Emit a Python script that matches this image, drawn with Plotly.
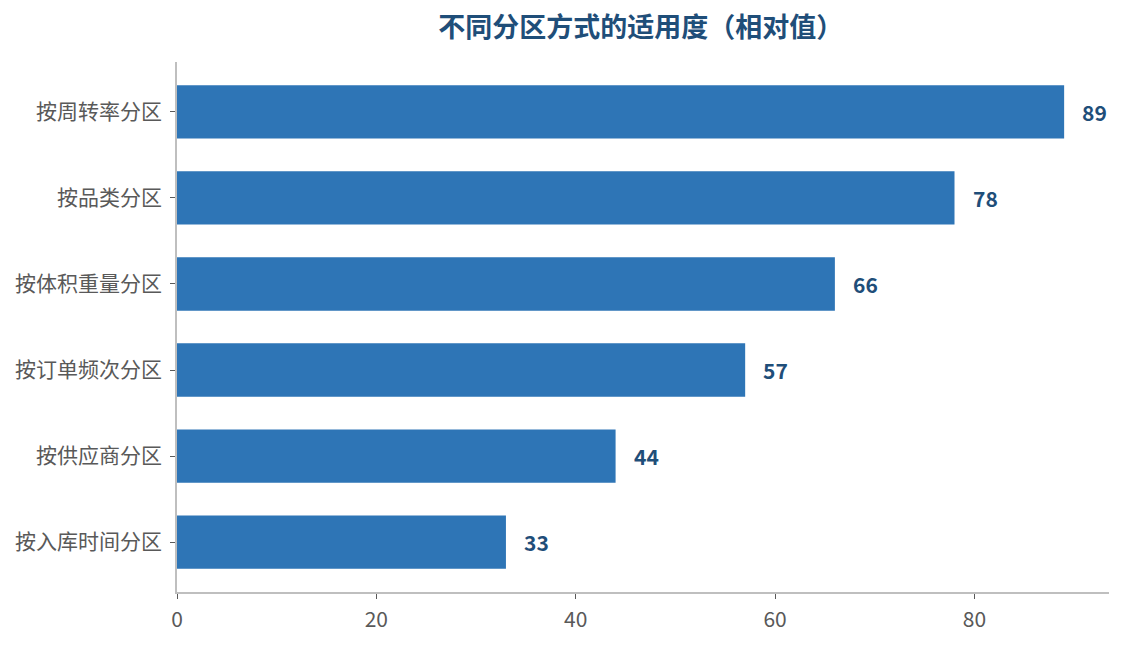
import plotly.graph_objects as go

# Data
categories = ["按周转率分区", "按品类分区", "按体积重量分区", "按订单频次分区", "按供应商分区", "按入库时间分区"]
values = [89, 78, 66, 57, 44, 33]

bar_color = "#2E75B6"
dark_blue = "#1F4E79"
font_family = "Noto Sans CJK SC, Noto Sans, sans-serif"

fig = go.Figure(
    go.Bar(
        x=values,
        y=categories,
        orientation="h",
        marker=dict(color=bar_color, line=dict(width=0)),
        hoverinfo="x+y",
    )
)

# value labels just past the bar ends
for cat, val in zip(categories, values):
    fig.add_annotation(
        x=val, y=cat, text=f"<b>{val}</b>", showarrow=False,
        xanchor="left", xshift=16,
        font=dict(size=21, color=dark_blue, family=font_family),
    )

fig.update_layout(
    width=1124,
    height=645,
    margin=dict(l=177, r=15, t=62, b=53, autoexpand=False),
    paper_bgcolor="white",
    plot_bgcolor="white",
    bargap=0.38,
    showlegend=False,
    font=dict(family=font_family, size=21, color="#595959"),
    title=dict(
        text="<b>不同分区方式的适用度（相对值）</b>",
        x=0.570, xref="container", xanchor="center",
        y=0.957, yref="container", yanchor="middle",
        font=dict(size=27, color=dark_blue, family=font_family),
    ),
    xaxis=dict(
        range=[0, 93.5],
        tickvals=[0, 20, 40, 60, 80],
        showgrid=False,
        zeroline=False,
        showline=True,
        linecolor="#BFBFBF",
        linewidth=1.5,
        ticks="outside",
        ticklen=5,
        tickcolor="#595959",
        ticklabelstandoff=3,
        automargin=False,
        tickfont=dict(size=21, color="#595959"),
    ),
    yaxis=dict(
        autorange=False,
        range=[5.58, -0.58],
        categoryorder="array",
        categoryarray=categories,
        showgrid=False,
        zeroline=False,
        showline=True,
        linecolor="#BFBFBF",
        linewidth=1.5,
        ticks="outside",
        ticklen=5,
        tickcolor="#595959",
        ticklabelstandoff=4,
        automargin=False,
        tickfont=dict(size=21, color="#595959"),
    ),
)

# drop the default 8px page margin so the figure fills the window exactly
fig.write_html(
    "out.html",
    config={"displayModeBar": False},
    post_script="document.body.style.margin='0';document.body.style.overflow='hidden';",
)
